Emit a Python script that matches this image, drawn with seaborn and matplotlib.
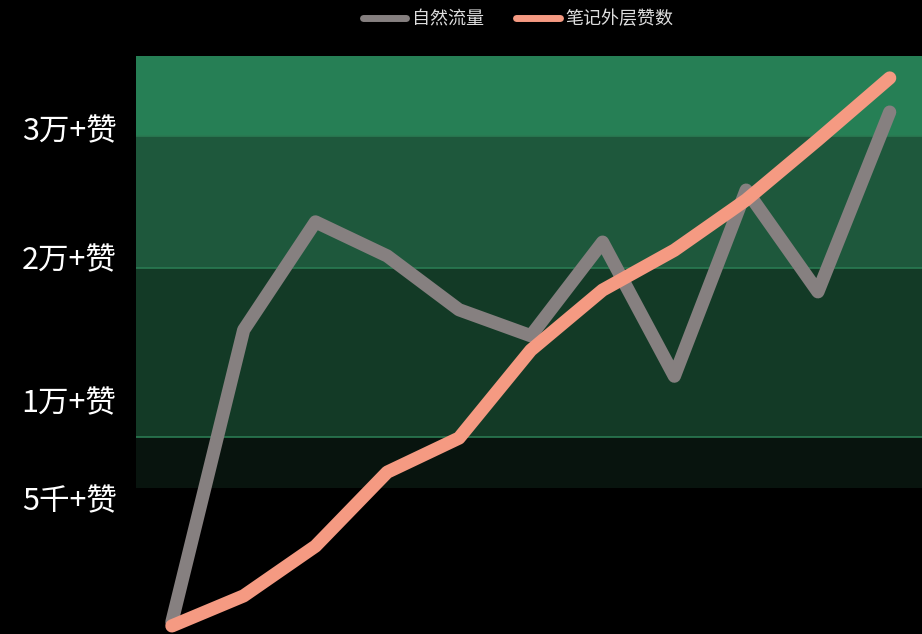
import matplotlib
matplotlib.use("Agg")
import matplotlib.pyplot as plt
import seaborn as sns
import pandas as pd
from matplotlib.lines import Line2D

sns.set_theme(style="dark")
plt.rcParams['font.family'] = ['Noto Sans CJK SC', 'DejaVu Sans']

# ---- data ----
steps = list(range(11))
natural = [2.1, 52.6, 71.3, 65.4, 56.1, 51.6, 67.8, 44.6, 76.8, 59.2, 90.3]
likes = [1.4, 6.6, 15.2, 28.0, 33.9, 49.1, 59.5, 66.4, 75.1, 85.5, 96.2]
series_names = ["自然流量", "笔记外层赞数"]
tick_values = [87.5, 65.2, 40.5, 23.5]
tick_labels = ["3万+赞", "2万+赞", "1万+赞", "5千+赞"]
band_edges = [100, 86.2, 63.3, 34.1, 25.3]
band_colors = ["#267f55", "#1e583c", "#133a26", "#08140e"]

df = pd.DataFrame({
    "step": steps * 2,
    "value": natural + likes,
    "series": [series_names[0]] * len(steps) + [series_names[1]] * len(steps),
})
palette = {series_names[0]: "#868080", series_names[1]: "#f59a82"}

fig = plt.figure(figsize=(9.22, 6.34), dpi=100, facecolor="black")
ax = fig.add_axes([136 / 922, 0, 1 - 136 / 922, 1 - 56 / 634])
ax.set_facecolor("black")

for i, c in enumerate(band_colors):
    ax.axhspan(band_edges[i + 1], band_edges[i], color=c, lw=0, zorder=0)
for e in band_edges[1:4]:
    ax.axhline(e, color="#2a7a52", lw=1.2, zorder=0.5)

sns.lineplot(data=df, x="step", y="value", hue="series", palette=palette,
             lw=9.5, legend=False, ax=ax, zorder=3,
             solid_capstyle="round", solid_joinstyle="round")

ax.set_xlim(-0.5, 10.45)
ax.set_ylim(0, 100)
ax.set_xticks([])
ax.set_yticks(tick_values)
ax.set_yticklabels(tick_labels, color="white", fontsize=22)
ax.tick_params(axis="y", length=0, pad=14)
ax.set_xlabel("")
ax.set_ylabel("")
for s in ax.spines.values():
    s.set_visible(False)
ax.grid(False)

handles = [Line2D([0], [0], color=palette[n], lw=5, solid_capstyle="round")
           for n in series_names]
fig.legend(handles, series_names, loc="center", bbox_to_anchor=(0.562, 1 - 19 / 634),
           ncol=2, frameon=False, fontsize=13, labelcolor="#dddddd",
           handlelength=2.4, handletextpad=0.3, columnspacing=1.8)

fig.savefig("out.png", dpi=100, facecolor="black")
